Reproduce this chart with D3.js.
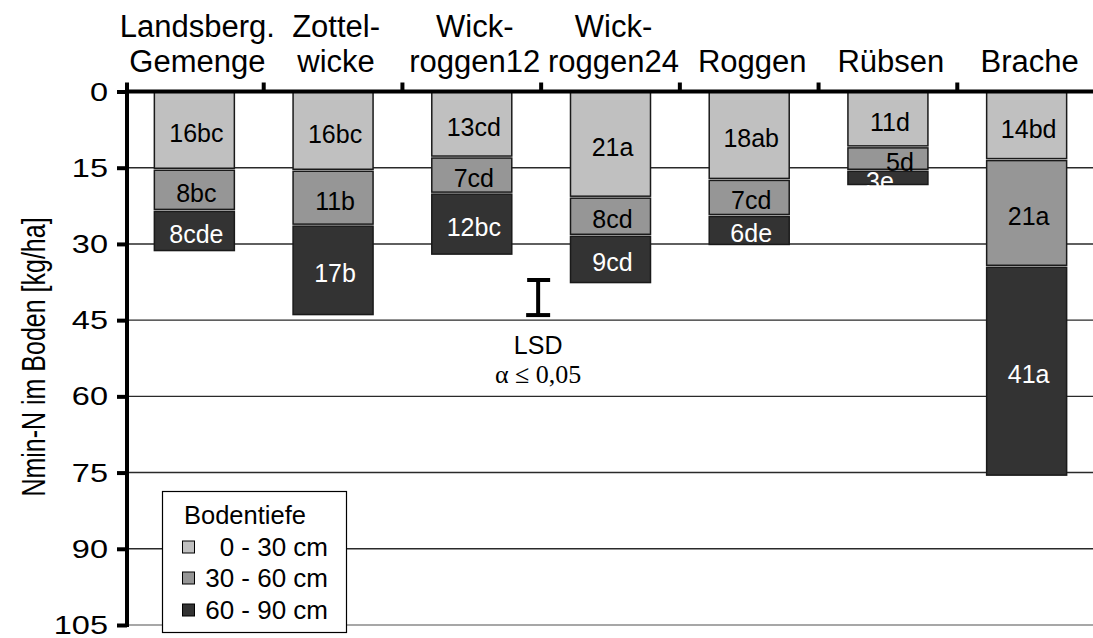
<!DOCTYPE html>
<html>
<head>
<meta charset="utf-8">
<script src="https://cdn.jsdelivr.net/npm/d3@7"></script>
<style>
  html, body { margin: 0; padding: 0; background: #fff; }
  svg { display: block; font-family: "Liberation Sans", Arial, sans-serif; }
</style>
</head>
<body>
<svg id="chart" width="1093" height="638"></svg>
<script>
// ---- data ----
const catLine1 = ["Landsberg.", "Zottel-", "Wick-", "Wick-", "", "", ""];
const catLine2 = ["Gemenge", "wicke", "roggen12", "roggen24", "Roggen", "Rübsen", "Brache"];
const depthNames = ["0 - 30 cm", "30 - 60 cm", "60 - 90 cm"];
const depth0_30  = [15.3, 15.5, 12.9, 20.8, 17.3, 10.9, 13.4];
const depth30_60 = [8.1, 10.8, 7.1, 7.5, 7.1, 4.6, 21.0];
const depth60_90 = [8.1, 17.8, 12.2, 9.5, 5.9, 3.0, 41.3];
const label0_30  = ["16bc", "16bc", "13cd", "21a", "18ab", "11d", "14bd"];
const label30_60 = ["8bc", "11b", "7cd", "8cd", "7cd", "5d", "21a"];
const label60_90 = ["8cde", "17b", "12bc", "9cd", "6de", "3e", "41a"];
const yTicks = [0, 15, 30, 45, 60, 75, 90, 105];
const lsdValue = 7.3;      // kg/ha
const lsdBottom = 44.2;    // where the LSD bar ends
const yTitle = "Nmin-N im Boden [kg/ha]";
const legendTitle = "Bodentiefe";

// ---- layout ----
const svg = d3.select("#chart");
const colors = ["#c0c0c0", "#969696", "#333333"];
const textColors = ["#000", "#000", "#fff"];
const axisX = 127;
const x = d3.scaleBand().domain(d3.range(catLine2.length)).range([125, 1096]).padding(0);
const barW = 80;
const y = d3.scaleLinear().domain([0, 105]).range([91.5, 625]);

// label nudges for crowded segments (layout only)
const labelNudge = { "5-1": [10, 0], "5-2": [-10, 0] };

// gridlines
svg.append("g").selectAll("line").data(yTicks.filter(d => d > 0)).join("line")
  .attr("x1", axisX).attr("x2", 1093)
  .attr("y1", d => y(d)).attr("y2", d => y(d))
  .attr("stroke", d => d === 105 ? "#8a8a8a" : "#2a2a2a")
  .attr("stroke-width", 1.4);

// stacked data
const labels = [label0_30, label30_60, label60_90];
const rows = catLine2.map((c, i) => ({ i, v0: depth0_30[i], v1: depth30_60[i], v2: depth60_90[i] }));
const stack = d3.stack().keys(["v0", "v1", "v2"])(rows);

const gBars = svg.append("g");
stack.forEach((layer, k) => {
  const g = gBars.append("g");
  g.selectAll("rect").data(layer).join("rect")
    .attr("x", (d, i) => x(i) + (x.bandwidth() - barW) / 2)
    .attr("y", d => y(d[0]) + (k === 0 ? 0 : 1))
    .attr("width", barW)
    .attr("height", d => y(d[1]) - y(d[0]) - (k === 0 ? 1 : 2))
    .attr("fill", colors[k])
    .attr("stroke", "#1a1a1a")
    .attr("stroke-width", 1.5);
  g.selectAll("text").data(layer).join("text")
    .attr("x", (d, i) => x(i) + x.bandwidth() / 2 + 2 + ((labelNudge[i + "-" + k] || [0, 0])[0]))
    .attr("y", (d, i) => (y(d[0]) + y(d[1])) / 2 + 12 + ((labelNudge[i + "-" + k] || [0, 0])[1]))
    .attr("text-anchor", "middle")
    .attr("font-size", 25)
    .attr("fill", textColors[k])
    .text((d, i) => labels[k][i]);
});

// top axis line and category boundary ticks
const gTop = svg.append("g");
gTop.append("line").attr("x1", axisX - 2).attr("x2", 1093)
  .attr("y1", y(0)).attr("y2", y(0)).attr("stroke", "#000").attr("stroke-width", 4);
gTop.selectAll("line.tick").data(d3.range(1, catLine2.length)).join("line")
  .attr("class", "tick")
  .attr("x1", i => x(i)).attr("x2", i => x(i))
  .attr("y1", y(0)).attr("y2", y(0) - 9)
  .attr("stroke", "#000").attr("stroke-width", 4);

// category labels
const gCat = svg.append("g").attr("font-size", 31).attr("text-anchor", "middle");
gCat.selectAll("text.l1").data(catLine1).join("text").attr("class", "l1")
  .attr("x", (d, i) => x(i) + x.bandwidth() / 2 + 3).attr("y", 37).text(d => d);
gCat.selectAll("text.l2").data(catLine2).join("text").attr("class", "l2")
  .attr("x", (d, i) => x(i) + x.bandwidth() / 2 + 3).attr("y", 72).text(d => d);

// left axis
const gLeft = svg.append("g").attr("transform", `translate(${axisX},0)`)
  .call(d3.axisLeft(y).tickValues(yTicks).tickSize(10).tickFormat(d3.format("d")));
gLeft.select(".domain").remove();
gLeft.selectAll(".tick line").attr("stroke", "#000").attr("stroke-width", 4);
gLeft.selectAll(".tick text")
  .attr("x", 0).attr("dy", null).attr("y", 8.5)
  .attr("transform", "translate(-19,0) scale(1.3,1)")
  .attr("font-size", 25).attr("font-family", "Liberation Sans, Arial, sans-serif")
  .attr("fill", "#000").attr("text-anchor", "end");
svg.append("line").attr("x1", axisX).attr("x2", axisX)
  .attr("y1", y(0) - 9).attr("y2", y(105) + 2).attr("stroke", "#000").attr("stroke-width", 4);

// y title
svg.append("text")
  .attr("transform", "translate(45,357) scale(1.3,1) rotate(-90)")
  .attr("text-anchor", "middle").attr("font-size", 25).text(yTitle);

// LSD bar
const lsdX = x(3);
const gL = svg.append("g").attr("stroke", "#000").attr("stroke-width", 4);
gL.append("line").attr("x1", lsdX - 3).attr("x2", lsdX - 3)
  .attr("y1", y(lsdBottom - lsdValue)).attr("y2", y(lsdBottom));
gL.append("line").attr("x1", lsdX - 14).attr("x2", lsdX + 9)
  .attr("y1", y(lsdBottom - lsdValue) + 1).attr("y2", y(lsdBottom - lsdValue) + 1);
gL.append("line").attr("x1", lsdX - 15).attr("x2", lsdX + 9)
  .attr("y1", y(lsdBottom) - 1).attr("y2", y(lsdBottom) - 1);
svg.append("text").attr("x", lsdX - 3).attr("y", 354).attr("text-anchor", "middle")
  .attr("font-size", 25).text("LSD");
svg.append("text").attr("x", lsdX - 3).attr("y", 383).attr("text-anchor", "middle")
  .attr("font-size", 26).attr("font-family", "Liberation Serif, Times New Roman, serif")
  .text("α ≤ 0,05");

// legend
const lg = svg.append("g");
lg.append("rect").attr("x", 162.5).attr("y", 491.5).attr("width", 184).attr("height", 141)
  .attr("fill", "#fff").attr("stroke", "#000").attr("stroke-width", 1.2);
lg.append("text").attr("x", 184).attr("y", 524).attr("font-size", 25.5).text(legendTitle);
const rowY = [547, 578, 610];
depthNames.forEach((n, k) => {
  lg.append("rect").attr("x", 182.5).attr("y", rowY[k] - 6).attr("width", 12).attr("height", 12)
    .attr("fill", colors[k]).attr("stroke", "#000").attr("stroke-width", 1);
  lg.append("text").attr("x", 328).attr("y", rowY[k] + 9).attr("text-anchor", "end")
    .attr("font-size", 26).text(n);
});
</script>
</body>
</html>
